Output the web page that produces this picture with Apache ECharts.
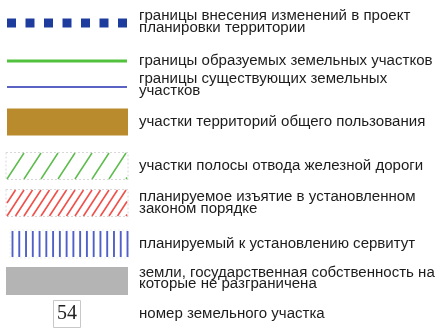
<!DOCTYPE html>
<html><head><meta charset="utf-8">
<script src="https://cdn.jsdelivr.net/npm/echarts@6/dist/echarts.min.js"></script>
<style>html,body{margin:0;padding:0;background:#fff}#c{width:439px;height:329px}</style>
</head><body><div id="c"></div>
<script>
const labels = [
  'границы внесения изменений в проект\nпланировки территории',
  'границы образуемых земельных участков',
  'границы существующих земельных\nучастков',
  'участки территорий общего пользования',
  'участки полосы отвода железной дороги',
  'планируемое изъятие в установленном\nзаконом порядке',
  'планируемый к установлению сервитут',
  'земли, государственная собственность на\nкоторые не разграничена',
  'номер земельного участка'
];
const swatchKinds = ['dotted','greenLine','blueLine','brown','greenHatch','redHatch','blueVertical','gray','number'];
const rowPos = [23, 61, 87, 122, 166, 203, 244, 281, 314];
const plotNumber = '54';

const chart = echarts.init(document.getElementById('c'));

function hatch(x0, x1, yTop, yBot, step, run, color, w) {
  const out = [];
  for (let c = x0 - run; c < x1 + step; c += step) {
    let ax = c, ay = yBot, bx = c + run, by = yTop;
    const slope = (by - ay) / (bx - ax);
    if (ax < x0) { ay = ay + slope * (x0 - ax); ax = x0; }
    if (bx > x1) { by = by - slope * (bx - x1); bx = x1; }
    if (bx <= ax) continue;
    out.push({type:'line', shape:{x1:ax,y1:ay,x2:bx,y2:by}, style:{stroke:color, lineWidth:w}});
  }
  return out;
}

function renderItem(params, api) {
  const i = api.value(0);
  const p = api.coord([0, api.value(1)]);
  const cy = p[1];
  const kind = swatchKinds[i];
  const L = 7, R = 127;
  const children = [];
  if (kind === 'dotted') {
    for (let k = 0; k < 7; k++) {
      const x = L + k * (R - 9 - L) / 6;
      children.push({type:'rect', shape:{x:x, y:cy-4.5, width:9, height:9}, style:{fill:'#1d3c9e'}});
    }
  } else if (kind === 'greenLine') {
    children.push({type:'rect', shape:{x:L, y:cy-1.5, width:R-L, height:3}, style:{fill:'#52c23e'}});
  } else if (kind === 'blueLine') {
    children.push({type:'rect', shape:{x:L, y:cy-1, width:R-L, height:2}, style:{fill:'#5a62c4'}});
  } else if (kind === 'brown') {
    children.push({type:'rect', shape:{x:L, y:cy-13.5, width:R-L+1, height:27}, style:{fill:'#b98b2c'}});
  } else if (kind === 'greenHatch' || kind === 'redHatch') {
    const green = kind === 'greenHatch';
    children.push({type:'rect', shape:{x:L-1, y:cy-13.5, width:R-L+2, height:27}, style:{fill:'#fff', stroke:'#d8d8d8', lineWidth:1, lineDash:[2,2]}});
    hatch(L, R, cy-13, cy+13, green ? 17 : 8.5, 17, green ? '#5cbc4c' : '#f0504a', green ? 1.5 : 1.6).forEach(e => children.push(e));
  } else if (kind === 'blueVertical') {
    children.push({type:'rect', shape:{x:L+3, y:cy-14, width:R-L-2, height:28}, style:{fill:'#fff', stroke:'#eeeeee', lineWidth:1, lineDash:[2,2]}});
    for (let k = 0; k < 18; k++) {
      const x = 12.5 + k * (127.5 - 12.5) / 17;
      children.push({type:'line', shape:{x1:x, y1:cy-13, x2:x, y2:cy+13}, style:{stroke:'#5060c6', lineWidth:1.9}});
    }
  } else if (kind === 'gray') {
    children.push({type:'rect', shape:{x:L-1, y:cy-14, width:R-L+2, height:28}, style:{fill:'#b4b4b4'}});
  } else if (kind === 'number') {
    children.push({type:'rect', shape:{x:53.5, y:cy-13.5, width:27, height:27}, style:{fill:'#fff', stroke:'#c8c8c8', lineWidth:1}});
    children.push({type:'text', style:{text:plotNumber, x:67, y:cy, align:'center', verticalAlign:'middle', font:'20px "Liberation Serif", serif', fill:'#222'}});
  }
  const tOff = (i === 0) ? -1 : (i === 2 ? -2 : (i === 7 ? -2.5 : 0));
  children.push({type:'text', x:139, y:cy + tOff, scaleX:1.075, style:{text:labels[i], x:0, y:0, align:'left', verticalAlign:'middle', font:'14px "Liberation Sans", Arial, sans-serif', lineHeight:11.5, fill:'#1c1c1c'}});
  return {type:'group', children};
}

chart.setOption({
  animation:false,
  grid:{left:0, right:0, top:0, bottom:0},
  xAxis:{type:'value', min:0, max:439, show:false},
  yAxis:{type:'value', min:0, max:329, inverse:true, show:false},
  series:[{type:'custom', renderItem, data: rowPos.map((y,i)=>[i,y]), silent:true}]
});
</script></body></html>
